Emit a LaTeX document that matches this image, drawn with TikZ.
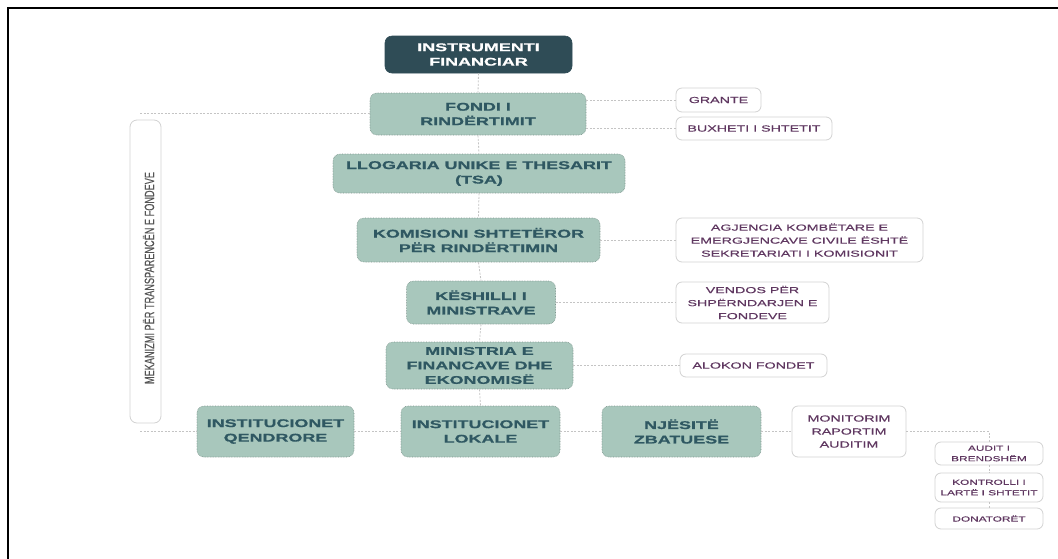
\documentclass[tikz,border=0pt]{standalone}
\usepackage{fontspec}
\setmainfont{Liberation Sans}
\newfontfamily\widefont[FakeStretch=1.6, BoldFeatures={FakeBold=0.9}]{Liberation Sans}
\newfontfamily\sidefont[FakeStretch=1.62, FakeBold=0.35]{Liberation Sans}
\newfontfamily\narrowfont[FakeStretch=0.68, FakeBold=0.3]{Liberation Sans}
\definecolor{darkbox}{HTML}{2F4C56}
\definecolor{greenfill}{HTML}{A8C7BC}
\definecolor{greenborder}{HTML}{7D958D}
\definecolor{maintext}{HTML}{2F5862}
\definecolor{sidetext}{HTML}{5F3760}
\definecolor{sideborder}{HTML}{D2D2D2}
\definecolor{conncolor}{HTML}{C4C4C4}
\definecolor{verttext}{HTML}{555555}
\tikzset{
  mainbox/.style={draw=greenborder, densely dotted, line width=0.6pt, fill=greenfill,
    rounded corners=7pt, text=maintext, align=center, inner sep=0pt,
    font=\widefont\bfseries\fontsize{11.2}{14.5}\selectfont},
  darkbox/.style={mainbox, solid, draw=darkbox, fill=darkbox, text=white},
  sidebox/.style={draw=sideborder, solid, line width=0.8pt, fill=white,
    rounded corners=6pt, text=sidetext, align=center, inner sep=0pt,
    font=\sidefont\fontsize{8.8}{13}\selectfont},
  smallbox/.style={sidebox, font=\sidefont\fontsize{7.3}{10.5}\selectfont},
  vertbox/.style={draw=sideborder, solid, line width=0.8pt, fill=white,
    rounded corners=7pt, inner sep=0pt},
  conn/.style={draw=conncolor, line width=0.8pt, dash pattern=on 2pt off 1.5pt},
}
\begin{document}
\begin{tikzpicture}[x=1pt,y=-1pt]
\useasboundingbox (0,0) rectangle (1058,558);
\fill[white] (0,0) rectangle (1058,558);
\draw[line width=2pt] (7.8,560) -- (7.8,7.8) -- (1060,7.8);

% main chain
\node[darkbox, minimum width=187pt, minimum height=37pt] (instr) at (478.5,54.5) {INSTRUMENTI\\FINANCIAR};
\node[mainbox, minimum width=216pt, minimum height=42pt] (fondi) at (478,114) {FONDI I\\RINDËRTIMIT};
\node[mainbox, minimum width=292pt, minimum height=39pt] (tsa) at (479,173.5) {LLOGARIA UNIKE E THESARIT\\(TSA)};
\node[mainbox, minimum width=243pt, minimum height=44pt] (kom) at (478.5,240) {KOMISIONI SHTETËROR\\PËR RINDËRTIMIN};
\node[mainbox, minimum width=149pt, minimum height=43pt] (kes) at (481,302.5) {KËSHILLI I\\MINISTRAVE};
\node[mainbox, minimum width=187pt, minimum height=47pt] (min) at (479.5,365.5) {MINISTRIA E\\FINANCAVE DHE\\EKONOMISË};
\node[mainbox, minimum width=157pt, minimum height=51pt] (qend) at (275.5,431.5) {INSTITUCIONET\\QENDRORE};
\node[mainbox, minimum width=159pt, minimum height=51pt] (lok) at (480.5,431.5) {INSTITUCIONET\\LOKALE};
\node[mainbox, minimum width=159pt, minimum height=51pt] (njes) at (681.5,431.5) {NJËSITË\\ZBATUESE};

% side boxes
\node[sidebox, minimum width=114pt, minimum height=51pt] (mon) at (849,431.5) {MONITORIM\\RAPORTIM\\AUDITIM};
\node[sidebox, minimum width=85pt, minimum height=24pt] (grante) at (718.5,100) {GRANTE};
\node[sidebox, minimum width=156pt, minimum height=23pt] (bux) at (754,128.5) {BUXHETI I SHTETIT};
\node[sidebox, minimum width=247pt, minimum height=44pt] (agj) at (799.5,240) {AGJENCIA KOMBËTARE E\\EMERGJENCAVE CIVILE ËSHTË\\SEKRETARIATI I KOMISIONIT};
\node[sidebox, minimum width=153pt, minimum height=41pt] (vend) at (752.5,302.5) {VENDOS PËR\\SHPËRNDARJEN E\\FONDEVE};
\node[sidebox, minimum width=147pt, minimum height=23pt] (alok) at (753.5,365.5) {ALOKON FONDET};
\node[smallbox, minimum width=108pt, minimum height=23pt] (aud) at (989,453.5) {AUDIT I\\BRENDSHËM};
\node[smallbox, minimum width=108pt, minimum height=29pt] (kont) at (989,487.5) {KONTROLLI I\\LARTË I SHTETIT};
\node[smallbox, minimum width=108pt, minimum height=21pt] (don) at (989,518.5) {DONATORËT};

% vertical mechanism box
\node[vertbox, minimum width=31pt, minimum height=303pt] (mek) at (145.5,271.5) {};
\node[rotate=90, text=verttext, font=\narrowfont\fontsize{13.5}{13.5}\selectfont, inner sep=0pt] (mektext) at (148.5,278) {MEKANIZMI PËR TRANSPARENCËN E FONDEVE};

% connectors
\coordinate (ltop) at (140,113);
\coordinate (lbot) at (140,431.5);
\coordinate (rcorner) at (aud.north |- mon.east);
\draw[conn] (instr.south) -- (fondi.north);
\draw[conn] (fondi.south) -- (tsa.north);
\draw[conn] (tsa.south) -- (kom.north);
\draw[conn] (kom.south) -- (kes.north);
\draw[conn] (kes.south) -- (min.north);
\draw[conn] (min.south) -- (lok.north);
\draw[conn] (ltop) -- (fondi.west |- ltop);
\draw[conn] (lbot) -- (qend.west);
\draw[conn] (grante.west -| fondi.east) -- (grante.west);
\draw[conn] (bux.west -| fondi.east) -- (bux.west);
\draw[conn] (kom.east) -- (agj.west);
\draw[conn] (kes.east) -- (vend.west);
\draw[conn] (min.east) -- (alok.west);
\draw[conn] (qend.east) -- (lok.west);
\draw[conn] (lok.east) -- (njes.west);
\draw[conn] (njes.east) -- (mon.west);
\draw[conn] (mon.east) -- (rcorner) -- (aud.north);
\draw[conn] (aud.south) -- (kont.north);
\draw[conn] (kont.south) -- (don.north);
\end{tikzpicture}
\end{document}
